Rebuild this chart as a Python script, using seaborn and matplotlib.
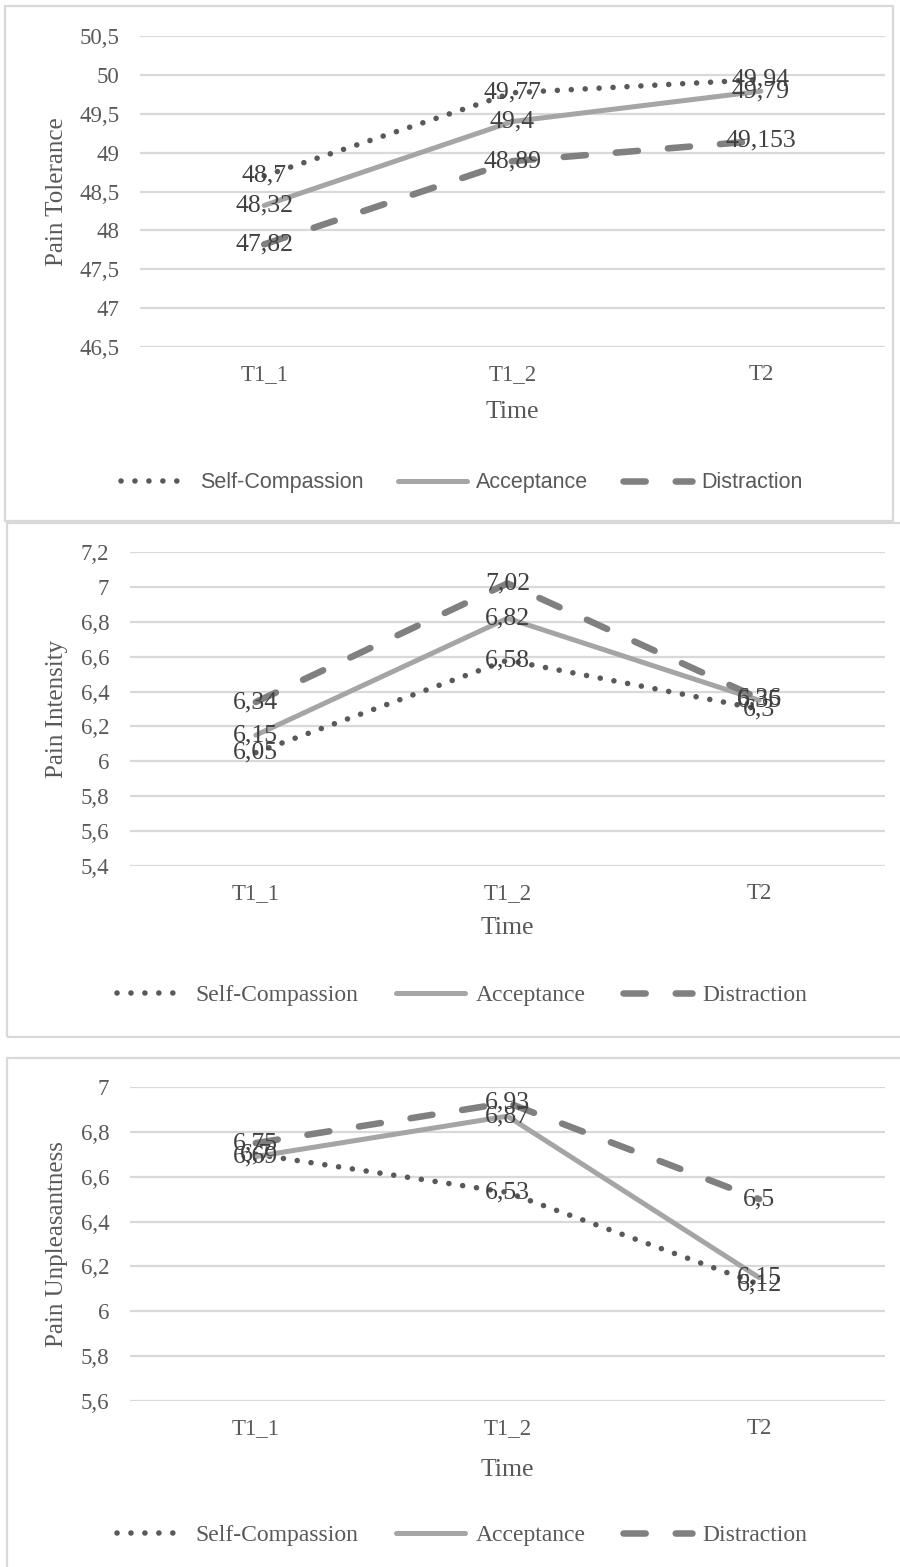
import matplotlib
matplotlib.use("Agg")
import matplotlib.pyplot as plt
from matplotlib import font_manager
from matplotlib.patches import Rectangle
from matplotlib.ticker import FuncFormatter
import numpy as np
import pandas as pd
import seaborn as sns

# data
times = ["T1_1", "T1_2", "T2"]
groups = ["Self-Compassion", "Acceptance", "Distraction"]

tolerance_sc = [48.7, 49.77, 49.94]
tolerance_acc = [48.32, 49.4, 49.79]
tolerance_dis = [47.82, 48.89, 49.153]

intensity_sc = [6.05, 6.58, 6.3]
intensity_acc = [6.15, 6.82, 6.35]
intensity_dis = [6.34, 7.02, 6.36]

unpleasant_sc = [6.7, 6.53, 6.12]
unpleasant_acc = [6.69, 6.87, 6.15]
unpleasant_dis = [6.75, 6.93, 6.5]

titles = ["Pain Tolerance", "Pain Intensity", "Pain Unpleasantness"]
y_ranges = [(46.5, 50.5, 0.5), (5.4, 7.2, 0.2), (5.6, 7.0, 0.2)]

W, H = 900, 1567
sns.set_style("white")
plt.rcParams["font.family"] = ["Liberation Serif", "DejaVu Serif"]

available = {f.name for f in font_manager.fontManager.ttflist}
narrow = "Liberation Sans Narrow" if "Liberation Sans Narrow" in available else "Liberation Sans"

fig = plt.figure(figsize=(W / 100, H / 100), dpi=100)

# style of each series: colour, width (pt), linestyle
styles = {
    "Self-Compassion": dict(color="#595959", linewidth=4.0, linestyle=(0, (0.01, 2.5))),
    "Acceptance": dict(color="#a5a5a5", linewidth=3.6, linestyle="-"),
    "Distraction": dict(color="#808080", linewidth=4.7, linestyle=(0, (3.4, 4.6))),
}


def fmt(v):
    return ("%g" % round(v, 4)).replace(".", ",")


def px_rect(x0, y0, x1, y1):
    return [x0 / W, 1 - y1 / H, (x1 - x0) / W, (y1 - y0) / H]


# (axes rect px, frame rect px, ylabel x px, xlabel y px, legend y px)
layout = [
    ((140, 36, 885, 347), (5, 6, 893, 521), 57, 412, 483),
    ((130, 552, 885, 866), (7, 523, 902, 1037), 57, 928, 995),
    ((130, 1087, 885, 1401), (7, 1058, 902, 1572), 57, 1470, 1535),
]

panel_data = [
    (tolerance_sc, tolerance_acc, tolerance_dis),
    (intensity_sc, intensity_acc, intensity_dis),
    (unpleasant_sc, unpleasant_acc, unpleasant_dis),
]

for i, (vals, title, yr, lay) in enumerate(zip(panel_data, titles, y_ranges, layout)):
    (ax0, ay0, ax1, ay1), (fx0, fy0, fx1, fy1), ylab_x, xlab_y, leg_y = lay

    fig.patches.append(Rectangle((fx0 / W, 1 - fy1 / H), (fx1 - fx0) / W, (fy1 - fy0) / H,
                                 transform=fig.transFigure, fill=False,
                                 edgecolor="#d9d9d9", linewidth=1.6))

    ax = fig.add_axes(px_rect(ax0, ay0, ax1, ay1))
    df = pd.DataFrame({
        "time": times * 3,
        "group": np.repeat(groups, 3),
        "value": np.concatenate(vals),
    })
    for g in groups:
        sub = df[df.group == g]
        sns.lineplot(data=sub, x="time", y="value", ax=ax, label=g,
                     dash_capstyle="round", solid_capstyle="round", **styles[g])

    for g, v in zip(groups, vals):
        for j, y in enumerate(v):
            ax.text(j, y, fmt(y), ha="center", va="center", fontsize=18.5,
                    color="#404040", zorder=5)

    lo, hi, step = yr
    ticks = np.round(np.arange(lo, hi + step / 2, step), 2)
    ax.set_yticks(ticks)
    ax.set_ylim(lo, hi)
    ax.set_xlim(-0.5, 2.5)
    ax.yaxis.set_major_formatter(FuncFormatter(lambda v, p: fmt(v)))
    ax.grid(axis="y", color="#d9d9d9", linewidth=1.6)
    ax.set_axisbelow(True)
    for s in ax.spines.values():
        s.set_visible(False)
    ax.tick_params(axis="both", length=0, labelsize=16.5, labelcolor="#595959")
    ax.tick_params(axis="y", pad=15)
    ax.tick_params(axis="x", pad=12)

    aw = ax1 - ax0
    ah = ay1 - ay0
    ax.set_ylabel(title, fontsize=18, color="#595959", va="center")
    ax.yaxis.set_label_coords((ylab_x - ax0) / aw, 0.5)
    ax.set_xlabel("Time", fontsize=18.5, color="#595959", va="center")
    ax.xaxis.set_label_coords(0.5, -(xlab_y - ay1) / ah)

    handles, labels = ax.get_legend_handles_labels()
    if i == 0:
        prop = {"family": [narrow, "DejaVu Sans"], "size": 15.5}
        hl = 3.2
    else:
        prop = {"family": ["Liberation Serif"], "size": 17}
        hl = 2.9
    ax.legend(handles, labels, loc="center", ncol=3, frameon=False,
              bbox_to_anchor=(462 / W, 1 - leg_y / H), bbox_transform=fig.transFigure,
              prop=prop, labelcolor="#595959",
              handlelength=hl, handletextpad=0.45, columnspacing=1.6)

fig.savefig("out.png", dpi=100, facecolor="white")
